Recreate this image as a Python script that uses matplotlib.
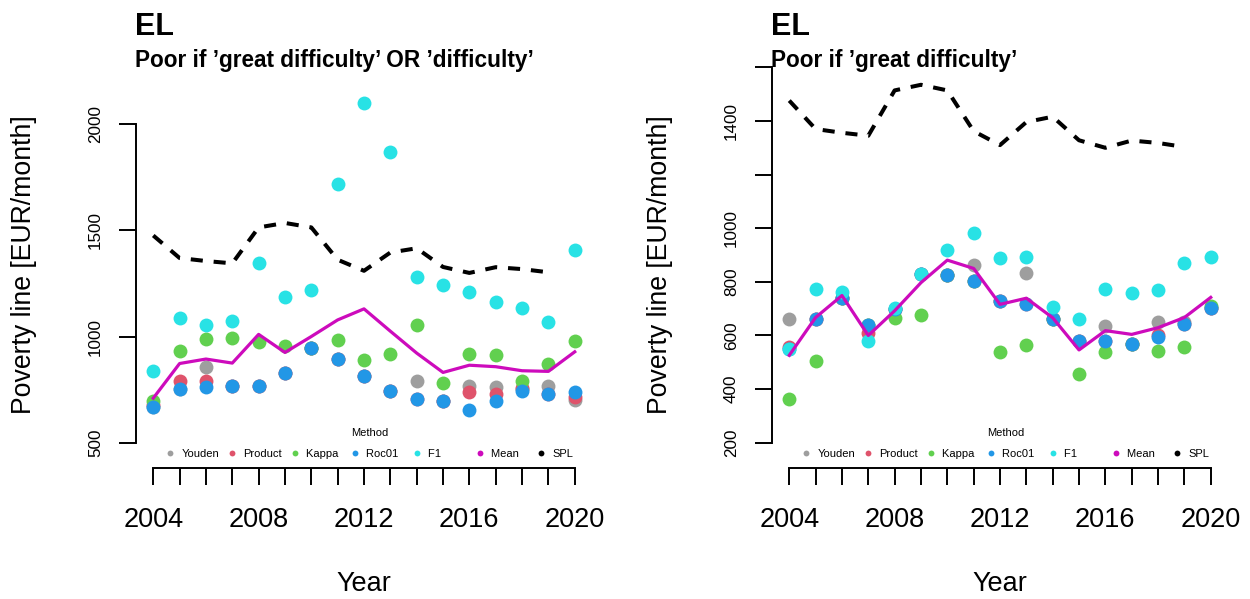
import matplotlib
matplotlib.use("Agg")
import matplotlib.pyplot as plt
from matplotlib.lines import Line2D

plt.rcParams['font.family'] = ['Liberation Sans', 'DejaVu Sans']

years = list(range(2004, 2021))
spl_years = list(range(2004, 2020))

# Poor if 'great difficulty' OR 'difficulty'
youden_a = [670, 756, 859, 766, 769, 830, 945, 893, 816, 746, 794, 699, 766, 763, 755, 768, 704]
product_a = [680, 794, 791, 766, 769, 830, 945, 893, 816, 746, 705, 699, 740, 729, 758, 730, 716]
kappa_a = [699, 934, 987, 992, 976, 957, 945, 985, 890, 917, 1053, 782, 917, 913, 791, 874, 979]
roc01_a = [669, 754, 765, 766, 769, 830, 945, 893, 816, 746, 705, 699, 655, 697, 747, 730, 740]
f1_a = [840, 1086, 1054, 1076, 1349, 1187, 1220, 1720, 2099, 1867, 1283, 1241, 1208, 1164, 1136, 1070, 1407]
mean_a = [711, 874, 895, 876, 1011, 926, 1001, 1079, 1131, 1026, 923, 832, 866, 859, 840, 837, 929]

# Poor if 'great difficulty'
youden_b = [662, 662, 738, 638, 697, 831, 824, 863, 730, 834, 660, 579, 634, 569, 651, 651, 701]
product_b = [558, 662, 738, 610, 697, 831, 824, 804, 730, 716, 660, 579, 579, 569, 600, 641, 701]
kappa_b = [362, 505, 738, 638, 664, 677, 824, 804, 539, 565, 660, 457, 538, 569, 541, 557, 710]
roc01_b = [548, 662, 738, 638, 697, 831, 824, 804, 730, 716, 660, 579, 579, 569, 594, 641, 701]
f1_b = [548, 772, 763, 580, 701, 831, 920, 983, 890, 892, 707, 661, 772, 759, 769, 870, 892]
mean_b = [526, 667, 749, 600, 692, 797, 881, 850, 716, 739, 666, 546, 618, 604, 629, 667, 742]

# subjective poverty line, same in both panels
spl = [1476, 1370, 1356, 1345, 1514, 1535, 1514, 1362, 1310, 1396, 1416, 1328, 1300, 1327, 1318, 1303]

methods = ['Youden', 'Product', 'Kappa', 'Roc01', 'F1']
colors = {'Youden': '#9E9E9E', 'Product': '#DF536B', 'Kappa': '#61D04F',
          'Roc01': '#2297E6', 'F1': '#28E2E5', 'Mean': '#CD0BBC', 'SPL': 'black'}
# labels padded so the legend keys sit at an even pitch, like R's horizontal legend
legend_labels = ['Youden', 'Product', 'Kappa ', 'Roc01  ', 'F1        ', 'Mean   ', 'SPL']


def draw_panel(ax, series, mean, ylim, yticks, ylabels, subtitle):
    for m in methods:
        ax.plot(years, series[m], 'o', color=colors[m], markersize=10, markeredgewidth=0)
    ax.plot(years, mean, color=colors['Mean'], lw=2.3)
    ax.plot(spl_years, spl, color='black', lw=2.9, linestyle=(0, (3.0, 2.7)))

    ax.set_xlim(2003.36, 2020.64)
    ax.set_ylim(*ylim)
    for s in ['top', 'right']:
        ax.spines[s].set_visible(False)
    ax.spines['left'].set_bounds(yticks[0], yticks[-1])
    ax.spines['bottom'].set_bounds(years[0], years[-1])
    for s in ['left', 'bottom']:
        ax.spines[s].set_linewidth(1.4)

    ax.set_xticks(years)
    ax.set_xticklabels([str(y) if y % 4 == 0 else '' for y in years])
    ax.set_yticks(yticks)
    ax.set_yticklabels(ylabels)
    ax.tick_params(axis='both', direction='out', length=12.2, width=1.4)
    ax.tick_params(axis='x', labelsize=19.5, pad=16)
    ax.tick_params(axis='y', labelsize=12.3, pad=12)
    plt.setp(ax.get_yticklabels(), rotation=90, va='center')

    ax.set_ylabel('Poverty line [EUR/month]', fontsize=19.2)
    ax.yaxis.set_label_coords(-0.218, 0.5)
    ax.set_xlabel('Year', fontsize=19.5)
    ax.xaxis.set_label_coords(0.5, -0.255)

    ax.text(-0.003, 1.0665, 'EL', transform=ax.transAxes, fontsize=22,
            fontweight='bold', va='baseline')
    ax.text(-0.003, 0.9877, subtitle, transform=ax.transAxes, fontsize=16.3,
            fontweight='bold', va='baseline')

    handles = [Line2D([], [], marker='o', ls='', color=colors[k], markersize=4.2,
                      markeredgewidth=0) for k in methods + ['Mean', 'SPL']]
    ax.legend(handles, legend_labels, title='Method', loc='upper center',
              bbox_to_anchor=(0.513, 0.098), ncol=7, frameon=False, fontsize=8,
              title_fontsize=8, handlelength=0.6, handletextpad=0.7,
              columnspacing=0.88, borderpad=0, labelspacing=1.0, borderaxespad=0)


fig = plt.figure(figsize=(12.5, 5.99), dpi=100)
ax1 = fig.add_axes([0.10912, 0.2192, 0.36416, 0.6773])
ax2 = fig.add_axes([0.61792, 0.2192, 0.36416, 0.6773])

draw_panel(ax1,
           {'Youden': youden_a, 'Product': product_a, 'Kappa': kappa_a,
            'Roc01': roc01_a, 'F1': f1_a},
           mean_a, (384, 2292), [500, 1000, 1500, 2000],
           ['500', '1000', '1500', '2000'],
           'Poor if \u2019great difficulty\u2019 OR \u2019difficulty\u2019')
draw_panel(ax2,
           {'Youden': youden_b, 'Product': product_b, 'Kappa': kappa_b,
            'Roc01': roc01_b, 'F1': f1_b},
           mean_b, (106.8, 1620), [200, 400, 600, 800, 1000, 1200, 1400, 1600],
           ['200', '400', '600', '800', '1000', '', '1400', ''],
           'Poor if \u2019great difficulty\u2019')

fig.savefig('out.png', dpi=100)
